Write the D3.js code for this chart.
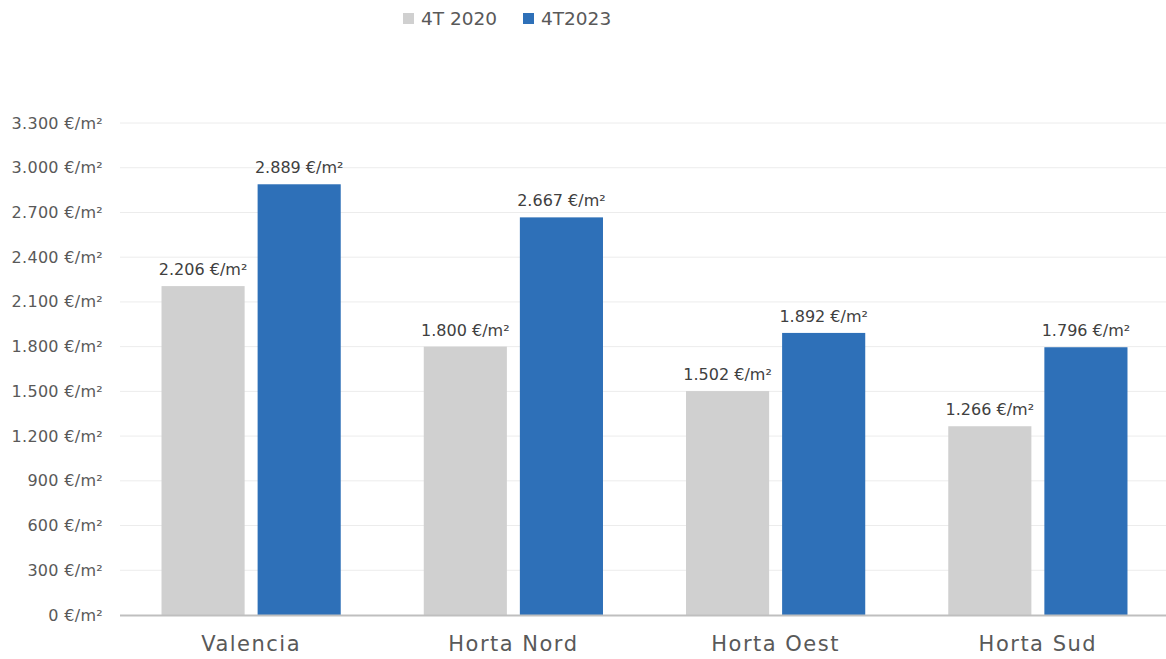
<!DOCTYPE html>
<html>
<head>
<meta charset="utf-8">
<script src="https://cdn.jsdelivr.net/npm/d3@7"></script>
<style>
  body { margin: 0; background: #fff; }
  text { font-family: "DejaVu Sans", sans-serif; }
</style>
</head>
<body>
<script>
// chart data
var categories = ["Valencia", "Horta Nord", "Horta Oest", "Horta Sud"];
var seriesNames = ["4T 2020", "4T2023"];
var values2020 = [2206, 1800, 1502, 1266];
var values2023 = [2889, 2667, 1892, 1796];
var yTicks = [0, 300, 600, 900, 1200, 1500, 1800, 2100, 2400, 2700, 3000, 3300];
var colors = ["#d0d0d0", "#2e70b8"];

var width = 1166, height = 659;
var svg = d3.select("body").append("svg")
    .attr("width", width)
    .attr("height", height);

var fmt = d3.formatLocale({decimal: ",", thousands: ".", grouping: [3], currency: ["", ""]}).format(",d");
function euro(v){ return fmt(v) + " €/m²"; }

var y = d3.scaleLinear().domain([0, 3300]).range([615, 123]);
var x0 = d3.scaleBand().domain(categories).range([120, 1169]);
var x1 = d3.scaleBand().domain(seriesNames).range([0, x0.bandwidth()])
    .paddingInner(0.135).paddingOuter(0.432);

//gridlines
svg.append("g").selectAll("line")
    .data(yTicks.slice(1))
    .enter().append("line")
    .attr("x1", 120).attr("x2", width)
    .attr("y1", function(d){ return y(d); })
    .attr("y2", function(d){ return y(d); })
    .attr("stroke", "#ececec").attr("stroke-width", 1);

//y tick labels
svg.append("g").selectAll("text")
    .data(yTicks)
    .enter().append("text")
    .attr("x", 103)
    .attr("y", function(d){ return y(d) + 5.5; })
    .attr("text-anchor", "end")
    .attr("fill", "#595959")
    .style("font-size", "16px")
    .style("letter-spacing", "0.3px")
    .text(euro);

var rows = categories.map(function(c, i){
    return [{s: seriesNames[0], v: values2020[i], c: 0}, {s: seriesNames[1], v: values2023[i], c: 1}];
});

var groups = svg.append("g").selectAll("g")
    .data(rows)
    .enter().append("g")
    .attr("transform", function(d, i){ return "translate(" + x0(categories[i]) + ",0)"; });

groups.selectAll("rect")
    .data(function(d){ return d; })
    .enter().append("rect")
    .attr("x", function(d){ return x1(d.s); })
    .attr("width", x1.bandwidth())
    .attr("y", function(d){ return y(d.v); })
    .attr("height", function(d){ return y(0) - y(d.v); })
    .attr("fill", function(d){ return colors[d.c]; });

groups.selectAll("text")
    .data(function(d){ return d; })
    .enter().append("text")
    .attr("x", function(d){ return x1(d.s) + x1.bandwidth() / 2; })
    .attr("y", function(d){ return y(d.v) - 11; })
    .attr("text-anchor", "middle")
    .attr("fill", "#404040")
    .style("font-size", "16px")
    .text(function(d){ return euro(d.v); });

//x axis line
svg.append("line")
    .attr("x1", 120).attr("x2", width)
    .attr("y1", 615.5).attr("y2", 615.5)
    .attr("stroke", "#bfbfbf").attr("stroke-width", 2);

//category labels
svg.append("g").selectAll("text")
    .data(categories)
    .enter().append("text")
    .attr("x", function(d){ return x0(d) + x0.bandwidth() / 2; })
    .attr("y", 651)
    .attr("text-anchor", "middle")
    .attr("fill", "#595959")
    .style("font-size", "21px")
    .style("letter-spacing", "1.5px")
    .text(function(d){ return d; });

//legend
var legendX = [403, 523];
var legend = svg.append("g").selectAll("g")
    .data(seriesNames)
    .enter().append("g")
    .attr("transform", function(d, i){ return "translate(" + legendX[i] + ",0)"; });
legend.append("rect")
    .attr("x", 0).attr("y", 13)
    .attr("width", 11).attr("height", 11)
    .attr("fill", function(d, i){ return colors[i]; });
legend.append("text")
    .attr("x", 18).attr("y", 25)
    .attr("fill", "#595959")
    .style("font-size", "18.5px")
    .text(function(d){ return d; });
</script>
</body>
</html>
